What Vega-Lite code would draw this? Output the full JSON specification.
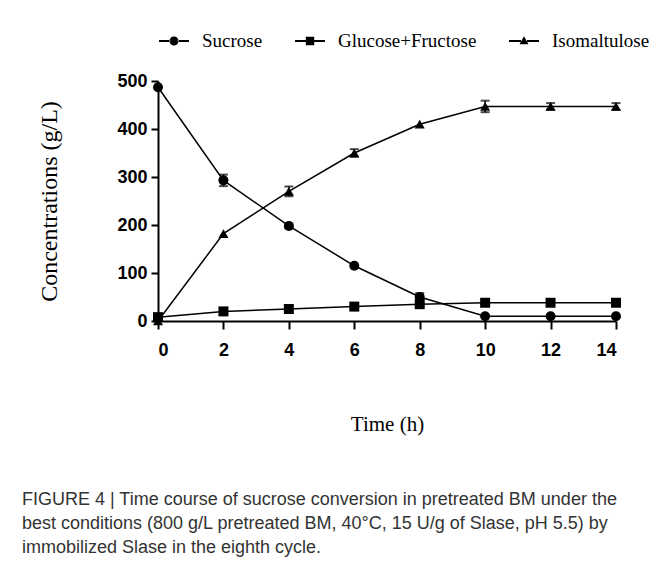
{
  "$schema": "https://vega.github.io/schema/vega-lite/v6.json",
  "width": 458,
  "height": 240,
  "padding": {"left": 21, "top": 25, "right": 0, "bottom": 10},
  "background": "white",
  "config": {
    "view": {"stroke": null},
    "axis": {
      "grid": false,
      "domainColor": "black",
      "domainWidth": 2,
      "tickColor": "black",
      "tickWidth": 2,
      "tickSize": 7,
      "labelColor": "black",
      "labelFont": "Liberation Sans",
      "labelFontWeight": "bold",
      "labelFontSize": 18,
      "labelPadding": 4,
      "titleColor": "black",
      "titleFont": "Liberation Serif",
      "titleFontWeight": "normal",
      "titleFontSize": 21
    }
  },
  "title": {
    "text": [
      "FIGURE 4 | Time course of sucrose conversion in pretreated BM under the",
      "best conditions (800 g/L pretreated BM, 40°C, 15 U/g of Slase, pH 5.5) by",
      "immobilized Slase in the eighth cycle."
    ],
    "orient": "bottom",
    "anchor": "start",
    "frame": "bounds",
    "dx": -16,
    "offset": 57,
    "font": "Liberation Sans",
    "fontSize": 18,
    "fontWeight": "normal",
    "color": "#333333",
    "lineHeight": 24
  },
  "data": {
    "values": [
      {"series": "Sucrose", "time": 0, "value": 487, "err": 0},
      {"series": "Sucrose", "time": 2, "value": 293, "err": 12},
      {"series": "Sucrose", "time": 4, "value": 198, "err": 5},
      {"series": "Sucrose", "time": 6, "value": 115, "err": 0},
      {"series": "Sucrose", "time": 8, "value": 50, "err": 8},
      {"series": "Sucrose", "time": 10, "value": 10, "err": 0},
      {"series": "Sucrose", "time": 12, "value": 10, "err": 0},
      {"series": "Sucrose", "time": 14, "value": 10, "err": 0},
      {"series": "Glucose+Fructose", "time": 0, "value": 8, "err": 5},
      {"series": "Glucose+Fructose", "time": 2, "value": 20, "err": 0},
      {"series": "Glucose+Fructose", "time": 4, "value": 25, "err": 0},
      {"series": "Glucose+Fructose", "time": 6, "value": 30, "err": 0},
      {"series": "Glucose+Fructose", "time": 8, "value": 35, "err": 5},
      {"series": "Glucose+Fructose", "time": 10, "value": 38, "err": 0},
      {"series": "Glucose+Fructose", "time": 12, "value": 38, "err": 0},
      {"series": "Glucose+Fructose", "time": 14, "value": 38, "err": 0},
      {"series": "Isomaltulose", "time": 0, "value": 0, "err": 0},
      {"series": "Isomaltulose", "time": 2, "value": 182, "err": 0},
      {"series": "Isomaltulose", "time": 4, "value": 270, "err": 10},
      {"series": "Isomaltulose", "time": 6, "value": 350, "err": 8},
      {"series": "Isomaltulose", "time": 8, "value": 410, "err": 0},
      {"series": "Isomaltulose", "time": 10, "value": 447, "err": 12},
      {"series": "Isomaltulose", "time": 12, "value": 447, "err": 7},
      {"series": "Isomaltulose", "time": 14, "value": 447, "err": 7}
    ]
  },
  "encoding": {
    "x": {
      "field": "time",
      "type": "quantitative",
      "scale": {"domain": [0, 14], "nice": false},
      "axis": {"values": [0, 2, 4, 6, 8, 10, 12, 14], "format": "d", "title": "Time (h)", "titlePadding": 54, "labelAngle": 0, "labelPadding": 12, "tickSize": 8}
    },
    "y": {
      "field": "value",
      "type": "quantitative",
      "scale": {"domain": [0, 500], "nice": false},
      "axis": {"values": [0, 100, 200, 300, 400, 500], "title": "Concentrations (g/L)", "titlePadding": 55, "titleFontSize": 24}
    }
  },
  "layer": [
    {
      "mark": {"type": "line", "color": "black", "strokeWidth": 1.5},
      "encoding": {"detail": {"field": "series"}}
    },
    {
      "transform": [{"filter": "datum.err > 0"}],
      "mark": {"type": "errorbar", "color": "black", "thickness": 1.5, "ticks": {"size": 9, "thickness": 2, "color": "black"}},
      "encoding": {
        "y": {"field": "value", "type": "quantitative"},
        "yError": {"field": "err"},
        "detail": {"field": "series"}
      }
    },
    {
      "transform": [{"filter": "datum.series === 'Sucrose'"}],
      "mark": {"type": "point", "filled": true, "color": "black", "opacity": 1, "size": 100, "shape": "circle"}
    },
    {
      "transform": [{"filter": "datum.series === 'Glucose+Fructose'"}],
      "mark": {"type": "point", "filled": true, "color": "black", "opacity": 1, "size": 100, "shape": "square"}
    },
    {
      "transform": [{"filter": "datum.series === 'Isomaltulose'"}],
      "mark": {"type": "point", "filled": true, "color": "black", "opacity": 1, "size": 100, "shape": "triangle-up"}
    },
    {
      "mark": {"type": "point", "filled": true, "color": "black", "opacity": 0, "size": 900},
      "encoding": {
        "shape": {
          "field": "series",
          "type": "nominal",
          "scale": {
            "domain": ["Sucrose", "Glucose+Fructose", "Isomaltulose"],
            "range": [
              "M-1,-0.06H-0.25V0.06H-1Z M0.25,-0.06H1V0.06H0.25Z M-0.3,0A0.3,0.3 0 1,0 0.3,0A0.3,0.3 0 1,0 -0.3,0Z",
              "M-1,-0.06H-0.25V0.06H-1Z M0.25,-0.06H1V0.06H0.25Z M-0.28,-0.28H0.28V0.28H-0.28Z",
              "M-1,-0.06H-0.2V0.06H-1Z M0.2,-0.06H1V0.06H0.2Z M0,-0.32L0.3,0.22H-0.3Z"
            ]
          },
          "legend": {
            "title": null,
            "orient": "top",
            "direction": "horizontal",
            "offset": 30,
            "columnPadding": 29,
            "labelFont": "Liberation Serif",
            "labelFontSize": 19,
            "labelColor": "black",
            "labelOffset": 12,
            "labelLimit": 300,
            "symbolSize": 900,
            "symbolOpacity": 1,
            "symbolFillColor": "black",
            "encode": {
              "symbols": {
                "opacity": {"value": 1},
                "fill": {"value": "black"}
              }
            }
          }
        }
      }
    }
  ]
}
